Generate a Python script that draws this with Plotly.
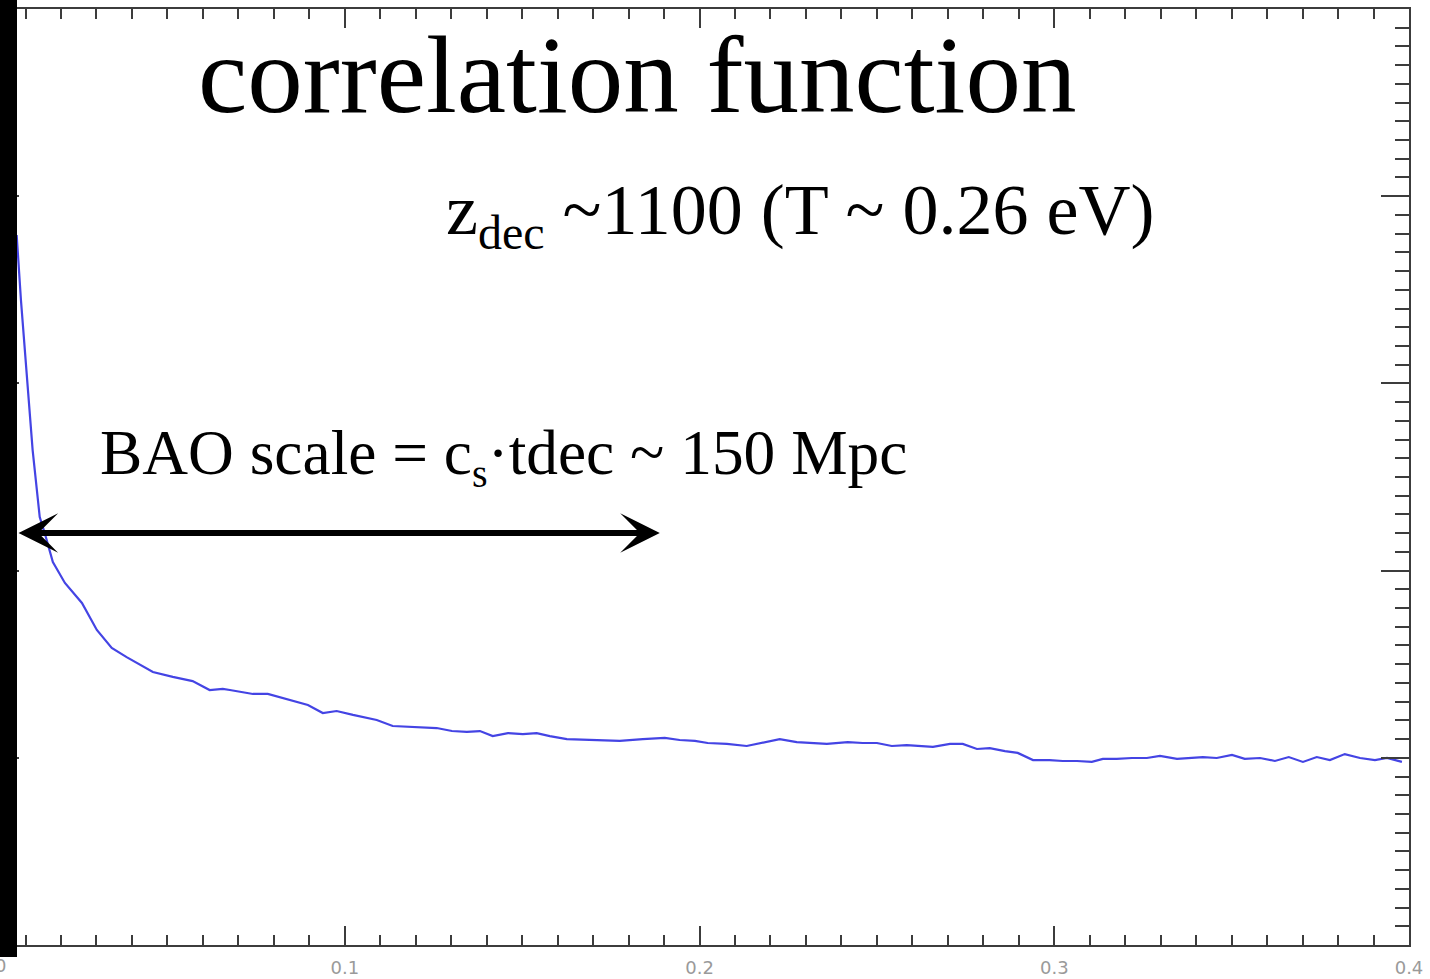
import plotly.graph_objects as go

# ---- data ----
sep = [0.0075, 0.0087, 0.0120, 0.0140, 0.0154, 0.0177, 0.0211, 0.0259, 0.0301, 0.0343,
       0.0385, 0.0459, 0.0515, 0.0571, 0.0619, 0.0656, 0.0676, 0.0741, 0.0783, 0.0859,
       0.0896, 0.0938, 0.0977, 0.1023, 0.1090, 0.1135, 0.1183, 0.1259, 0.1302, 0.1344,
       0.1381, 0.1417, 0.1460, 0.1502, 0.1541, 0.1578, 0.1626, 0.1699, 0.1775, 0.1840,
       0.1902, 0.1944, 0.1987, 0.2023, 0.2077, 0.2133, 0.2170, 0.2226, 0.2274, 0.2311,
       0.2359, 0.2418, 0.2460, 0.2500, 0.2542, 0.2584, 0.2613, 0.2658, 0.2706, 0.2742,
       0.2782, 0.2818, 0.2861, 0.2897, 0.2940, 0.2987, 0.3024, 0.3064, 0.3106, 0.3137,
       0.3176, 0.3219, 0.3261, 0.3298, 0.3346, 0.3382, 0.3419, 0.3458, 0.3501, 0.3537,
       0.3580, 0.3622, 0.3661, 0.3701, 0.3740, 0.3777, 0.3819, 0.3862, 0.3904, 0.3938,
       0.3980]
corr = [3.793, 3.446, 2.644, 2.286, 2.201, 2.046, 1.934, 1.827, 1.683, 1.587,
        1.538, 1.458, 1.432, 1.410, 1.362, 1.368, 1.362, 1.341, 1.341, 1.303,
        1.282, 1.239, 1.250, 1.229, 1.202, 1.170, 1.165, 1.159, 1.143, 1.138,
        1.143, 1.116, 1.132, 1.127, 1.132, 1.116, 1.100, 1.095, 1.090, 1.100,
        1.106, 1.095, 1.090, 1.079, 1.074, 1.063, 1.079, 1.100, 1.084, 1.079,
        1.074, 1.084, 1.079, 1.079, 1.063, 1.068, 1.063, 1.058, 1.074, 1.074,
        1.047, 1.052, 1.036, 1.026, 0.988, 0.988, 0.983, 0.983, 0.978, 0.994,
        0.994, 0.999, 0.999, 1.010, 0.994, 0.999, 1.004, 0.999, 1.015, 0.994,
        0.999, 0.983, 1.004, 0.978, 1.004, 0.988, 1.020, 0.999, 0.988, 0.999,
        0.978]

x_range = [0.0028, 0.4]
y_range = [0, 5]
x_tickvals = [0.1, 0.2, 0.3, 0.4]
x_ticklabels = ["0.1", "0.2", "0.3", "0.4"]

title_text = "correlation function"
zdec_text = "z<sub><span style='font-size:48px'>dec</span></sub> ~1100 (T ~ 0.26 eV)"
bao_text = "BAO scale = c<sub><span style='font-size:40px'>s</span></sub>·tdec ~ 150 Mpc"

arrow_start = (0.0076, 2.201)
arrow_end = (0.1888, 2.201)

AX = "#3c3c3c"
LBL = "#9a9a9a"
SERIF = "Liberation Serif, Times New Roman, serif"

fig = go.Figure()
fig.add_trace(go.Scatter(x=sep, y=corr, mode="lines",
                         line=dict(color="#4444e4", width=2.2),
                         hoverinfo="skip", showlegend=False))
fig.add_trace(go.Scatter(x=sep, y=corr, mode="lines", yaxis="y2",
                         line=dict(color="rgba(0,0,0,0)", width=1),
                         hoverinfo="skip", showlegend=False))

fig.update_layout(
    width=1430, height=979,
    margin=dict(l=0, r=21, t=9, b=34),
    paper_bgcolor="white", plot_bgcolor="white",
    showlegend=False,
    xaxis=dict(range=x_range, tickvals=x_tickvals, ticktext=x_ticklabels,
               ticks="inside", ticklen=19, tickwidth=2, tickcolor=AX,
               showline=True, linecolor=AX, linewidth=2, mirror="ticks",
               showgrid=False, zeroline=False, ticklabelstandoff=5,
               tickfont=dict(family="DejaVu Sans", size=18, color=LBL),
               minor=dict(dtick=0.01, tick0=0, ticks="inside", ticklen=10,
                          tickwidth=2, tickcolor=AX, showgrid=False)),
    yaxis=dict(range=y_range, dtick=1, tick0=0, ticks="inside", ticklen=19,
               tickwidth=2, tickcolor=AX, showline=True, linecolor=AX,
               linewidth=2, showticklabels=False, showgrid=False,
               zeroline=False),
    yaxis2=dict(range=y_range, overlaying="y", side="right", dtick=1, tick0=0,
                ticks="inside", ticklen=28, tickwidth=2, tickcolor=AX,
                showline=True, linecolor=AX, linewidth=2,
                showticklabels=False, showgrid=False, zeroline=False,
                minor=dict(dtick=0.1, tick0=0, ticks="inside", ticklen=14,
                           tickwidth=2, tickcolor=AX, showgrid=False)),
)

# black bar covering the left edge
fig.add_shape(type="rect", xref="paper", yref="paper",
              x0=-0.01, x1=17 / 1409, y0=-0.0128, y1=1.02,
              fillcolor="black", line=dict(width=0), layer="above")

fig.add_annotation(text="0", xref="paper", yref="paper", x=0, y=-0.0224,
                   xanchor="center", yanchor="middle", showarrow=False,
                   font=dict(family="DejaVu Sans", size=18, color=LBL))

fig.add_annotation(text=title_text, xref="paper", yref="paper",
                   x=0.4521, y=0.9295, xanchor="center", yanchor="middle",
                   showarrow=False, font=dict(family=SERIF, size=111, color="black"))
fig.add_annotation(text=zdec_text, xref="paper", yref="paper",
                   x=0.3150, y=0.780, xanchor="left", yanchor="middle",
                   showarrow=False, font=dict(family=SERIF, size=72, color="black"))
fig.add_annotation(text=bao_text, xref="paper", yref="paper",
                   x=0.0695, y=0.521, xanchor="left", yanchor="middle",
                   showarrow=False, font=dict(family=SERIF, size=63.4, color="black"))

fig.add_annotation(x=arrow_end[0], y=arrow_end[1], ax=arrow_start[0], ay=arrow_start[1],
                   xref="x", yref="y", axref="x", ayref="y", text="",
                   showarrow=True, arrowhead=3, startarrowhead=3,
                   arrowside="end+start", arrowwidth=6, arrowsize=1.1,
                   startarrowsize=1.1, arrowcolor="black")

fig.write_html("out.html")
